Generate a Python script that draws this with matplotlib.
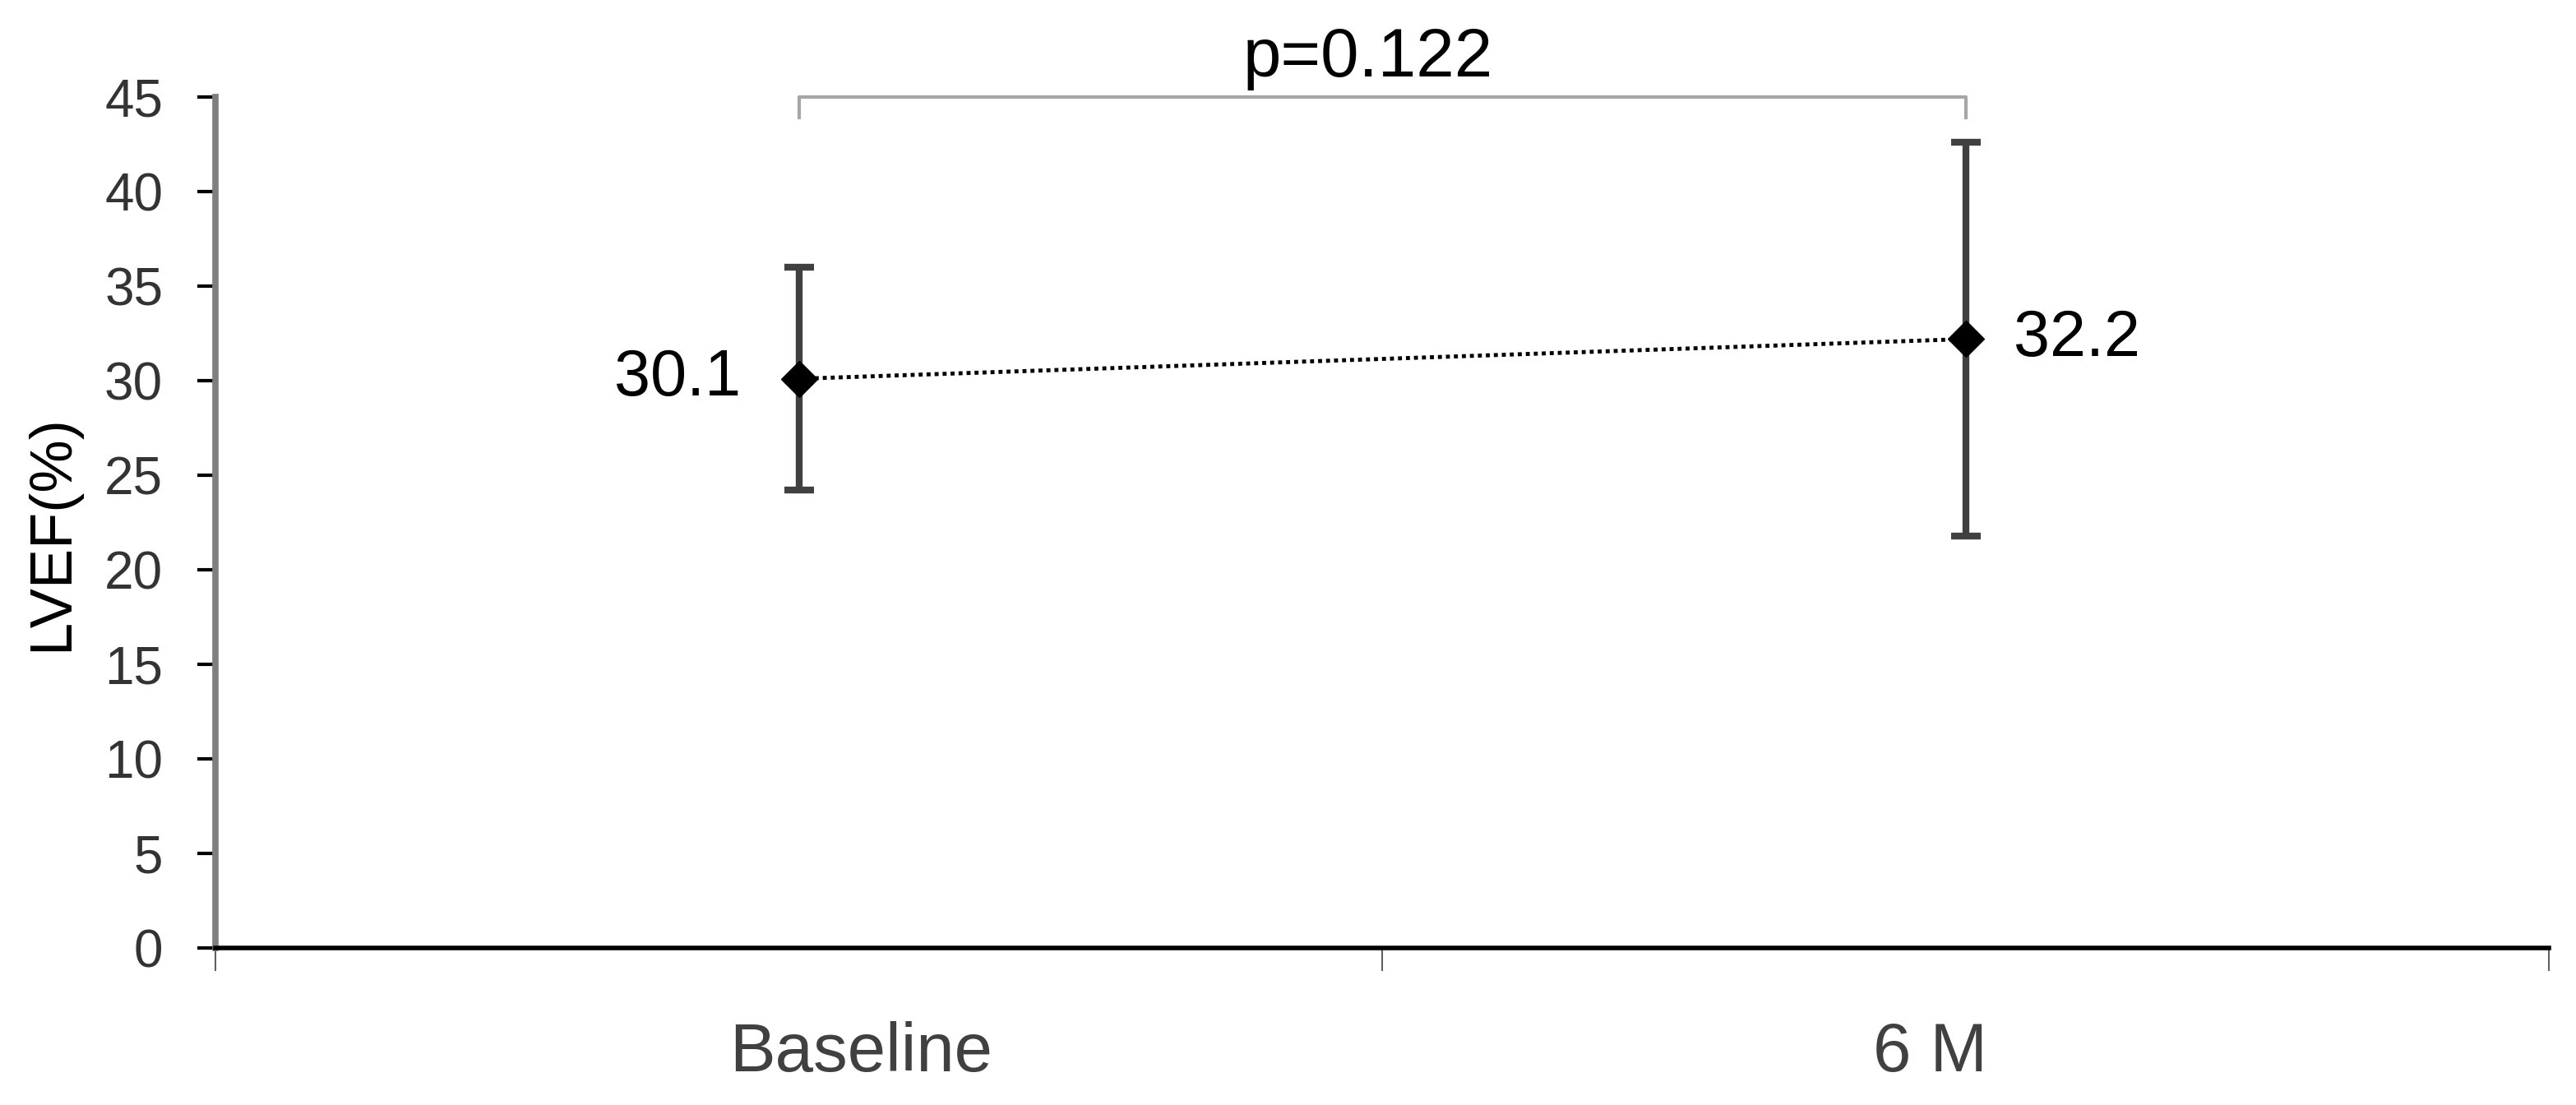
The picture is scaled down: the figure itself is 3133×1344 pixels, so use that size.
import numpy as np
import matplotlib.pyplot as plt

plt.rcParams['font.family'] = ['Liberation Sans', 'DejaVu Sans']

# data
groups = ['Baseline', '6 M']
lvef_mean = [30.1, 32.2]
lvef_sd = [5.9, 10.4]
p_text = 'p=0.122'
yticks = [0, 5, 10, 15, 20, 25, 30, 35, 40, 45]

x = np.array([0.5, 1.5])
# category labels sit a little off the category centre in the original
label_x = x + np.array([0.053, -0.030])

fig = plt.figure(figsize=(31.33, 13.44), dpi=100)
ax = fig.add_axes([262/3133, 1-1153/1344, (3100-262)/3133, (1153-118)/1344])

# dotted connecting line
ax.plot(x, lvef_mean, color='black', lw=3.5, linestyle=(0, (1, 1)), zorder=2)
# error bars + markers
ax.errorbar(x, lvef_mean, yerr=lvef_sd, fmt='none', ecolor='#404040',
            elinewidth=6, capsize=13, capthick=6, zorder=3)
ax.plot(x, lvef_mean, 'D', color='black', markersize=22, zorder=4)

# value labels
ax.annotate(f'{lvef_mean[0]:.1f}', (x[0], lvef_mean[0]), xytext=(-51, 0),
            textcoords='offset points', ha='right', va='center',
            fontsize=57, color='black')
ax.annotate(f'{lvef_mean[1]:.1f}', (x[1], lvef_mean[1]), xytext=(42, 0),
            textcoords='offset points', ha='left', va='center',
            fontsize=57, color='black')

# significance bracket
ax.plot([x[0], x[0], x[1], x[1]], [43.9, 45, 45, 43.9], color='#a6a6a6',
        lw=3, clip_on=False, zorder=1)
ax.text(0.988, 46.1, p_text, ha='center', va='baseline', fontsize=60,
        color='black', clip_on=False)

ax.set_xlim(0, 2)
ax.set_ylim(0, 45)
ax.set_yticks(yticks)
ax.tick_params(axis='y', direction='out', length=16, width=3, color='black',
               labelsize=46, labelcolor='#333333', pad=30)

ax.set_xticks([0, 1, 2])
ax.set_xticklabels(['', '', ''])
ax.set_xticks(label_x, minor=True)
ax.set_xticklabels(groups, minor=True)
ax.tick_params(axis='x', which='major', direction='out', length=20, width=1.5,
               color='#606060')
ax.tick_params(axis='x', which='minor', length=0, labelsize=60,
               labelcolor='#404040', pad=64)

for s in ['top', 'right']:
    ax.spines[s].set_visible(False)
ax.spines['left'].set_color('#7f7f7f')
ax.spines['left'].set_linewidth(5.5)
ax.spines['bottom'].set_color('black')
ax.spines['bottom'].set_linewidth(4)

fig.text(64/3133, 1-648/1344, 'LVEF(%)', rotation=90, ha='center',
         va='center', fontsize=52, color='black')

fig.savefig('out.png', dpi=100)
